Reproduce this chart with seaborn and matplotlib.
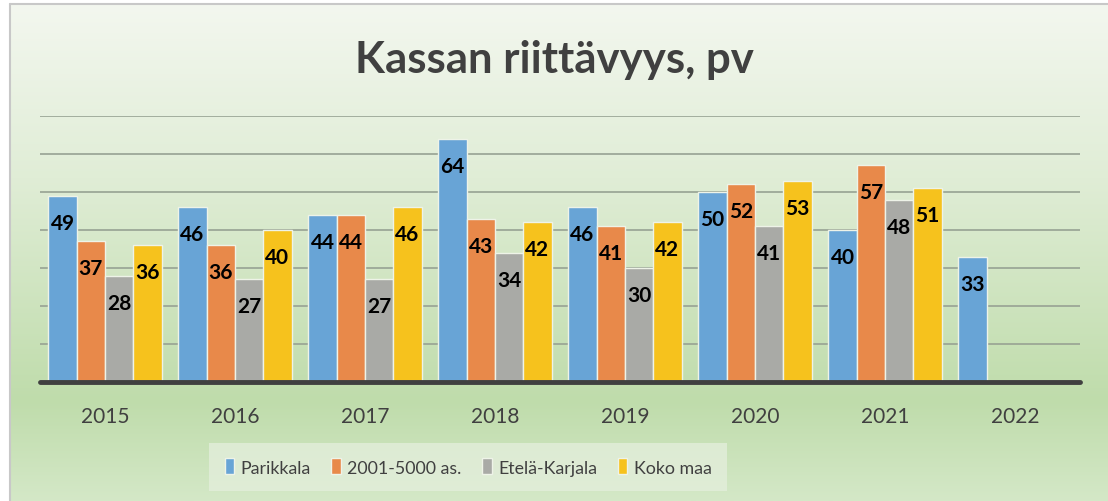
import numpy as np
import pandas as pd
import seaborn as sns
import matplotlib.pyplot as plt
from matplotlib.colors import LinearSegmentedColormap

# data
years = ["2015", "2016", "2017", "2018", "2019", "2020", "2021", "2022"]
parikkala = [49, 46, 44, 64, 46, 50, 40, 33]
kunnat_2001_5000 = [37, 36, 44, 43, 41, 52, 57, np.nan]
etela_karjala = [28, 27, 27, 34, 30, 41, 48, np.nan]
koko_maa = [36, 40, 46, 42, 42, 53, 51, np.nan]

series_names = ["Parikkala", "2001-5000 as.", "Etelä-Karjala", "Koko maa"]
colors = ["#68a4d6", "#e8894a", "#a9aaa6", "#f6c21d"]

df = pd.DataFrame({
    "Vuosi": years,
    "Parikkala": parikkala,
    "2001-5000 as.": kunnat_2001_5000,
    "Etelä-Karjala": etela_karjala,
    "Koko maa": koko_maa,
})
df_long = df.melt(id_vars="Vuosi", var_name="Sarja", value_name="pv").dropna()

sns.set_style("white")
plt.rcParams["font.family"] = ["Lato", "DejaVu Sans"]

fig = plt.figure(figsize=(11.08, 5.02), dpi=100)

# gradient background of the chart area
bg = fig.add_axes([10 / 1108, 0, 1 - 10 / 1108, 1 - 5 / 502], zorder=-5)
cmap = LinearSegmentedColormap.from_list(
    "bg", [(0, "#f3f7ef"), (0.35, "#e0edd6"), (0.8, "#bfdcab"), (1, "#d4e8c7")])
grad = np.linspace(0, 1, 256).reshape(-1, 1)
bg.imshow(grad, aspect="auto", cmap=cmap, extent=[0, 1, 0, 1])
bg.set_axis_off()
fig.add_artist(plt.Line2D([10 / 1108, 10 / 1108], [0, 1 - 5 / 502], color="#c8c8c8", lw=1.5))
fig.add_artist(plt.Line2D([10 / 1108, 1], [1 - 5 / 502, 1 - 5 / 502], color="#c8c8c8", lw=1.5))

ax = fig.add_axes([40 / 1108, 1 - 383 / 502, 1040 / 1108, 266 / 502])
ax.patch.set_alpha(0)

sns.barplot(data=df_long, x="Vuosi", y="pv", hue="Sarja", order=years,
            hue_order=series_names, palette=colors, width=0.87,
            edgecolor="#eef3e8", linewidth=1, saturation=1, ax=ax, zorder=3)

ax.set_xlim(-0.5, 7.5)
ax.set_ylim(0, 70)
ax.set_yticks(range(0, 71, 10))
ax.set_yticklabels([])
ax.yaxis.grid(True, color="#97a293", lw=1.2, zorder=0)
ax.set_axisbelow(True)
ax.tick_params(axis="y", length=0)
ax.tick_params(axis="x", length=0, pad=17, labelsize=15, labelcolor="#404040")
ax.set_xlabel("")
ax.set_ylabel("")
sns.despine(ax=ax, left=True, bottom=True)
ax.axhline(0, color="#404040", lw=3.5, zorder=5, clip_on=False)

# value labels inside bar tops
for cont in ax.containers:
    for bar in cont:
        h = bar.get_height()
        if np.isnan(h) or h <= 0:
            continue
        ax.annotate(f"{h:.0f}", (bar.get_x() + bar.get_width() / 2, h),
                    xytext=(0, -19.5), textcoords="offset points",
                    ha="center", va="center", fontsize=15, fontweight="bold",
                    color="black", zorder=6)

fig.text(0.5, 1 - 60 / 502, "Kassan riittävyys, pv", ha="center", va="center",
         fontsize=31.5, fontweight="bold", color="#404040")

sns.move_legend(ax, loc="center", bbox_to_anchor=(468 / 1108, 1 - 468 / 502),
                bbox_transform=fig.transFigure, ncol=4, title=None,
                frameon=True, fancybox=False, fontsize=12.8, labelcolor="#404040",
                handlelength=0.55, handleheight=1.0, handletextpad=0.35,
                columnspacing=1.15, borderpad=0.85, borderaxespad=0)
leg = ax.get_legend()
leg.get_frame().set_facecolor("#e3eedb")
leg.get_frame().set_alpha(0.8)
leg.get_frame().set_edgecolor("none")

plt.savefig("out.png", dpi=100)
